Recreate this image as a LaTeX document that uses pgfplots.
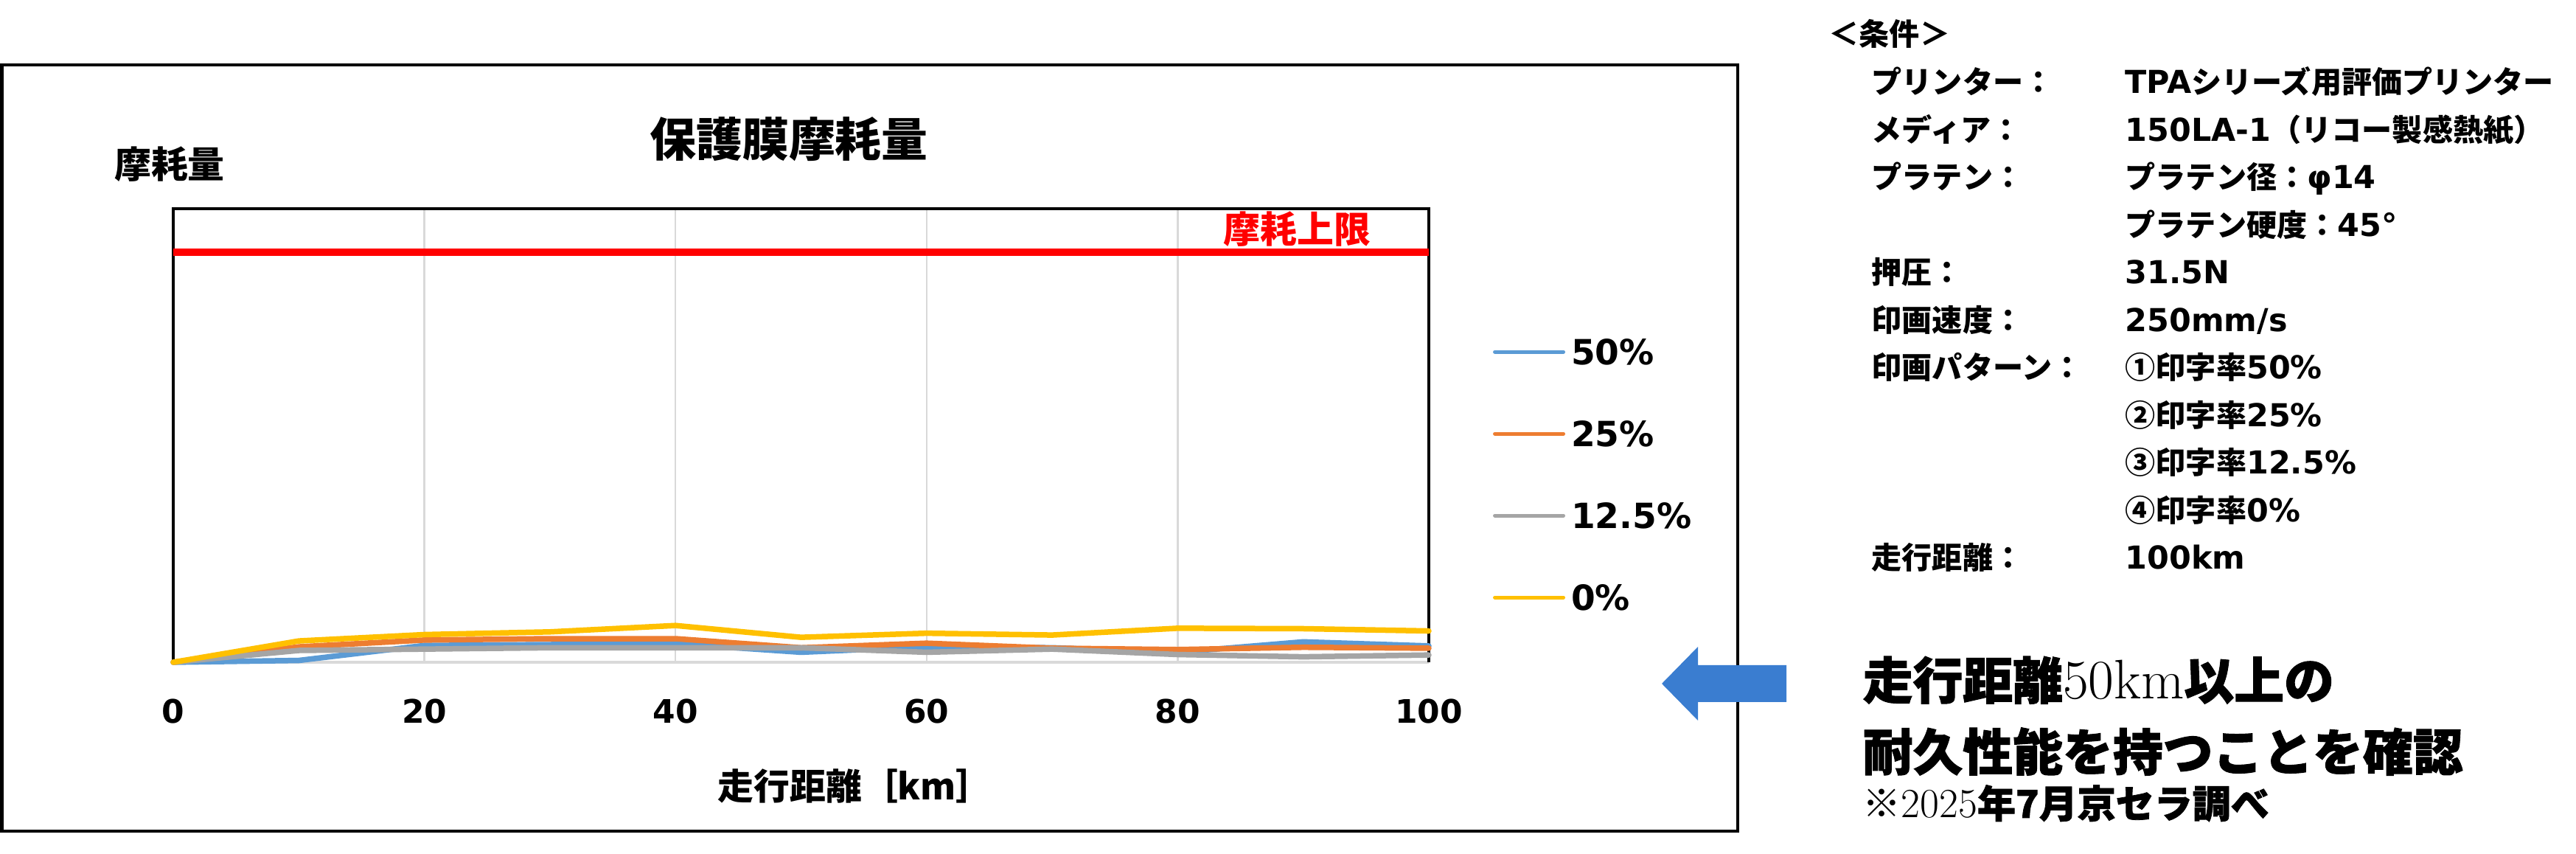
\documentclass[border=0pt]{standalone}
\usepackage{fontspec}
\usepackage{graphicx}
\usepackage{pgfplots}
\pgfplotsset{compat=1.18}
\newfontfamily\jp{Noto Sans CJK JP}
\newfontfamily\jph{Noto Sans CJK JP}[BoldFeatures={FakeBold=1.5}]
\newfontfamily\dv{DejaVu Sans}
\definecolor{c50}{HTML}{5B9BD5}
\definecolor{c25}{HTML}{ED7D31}
\definecolor{c12}{HTML}{A5A5A5}
\definecolor{c0}{HTML}{FFC000}
\definecolor{arrowblue}{HTML}{3A7DD0}
\definecolor{gridgray}{HTML}{D9D9D9}
\newcommand\pj{\jp\bfseries\fontsize{11.7}{14}\selectfont}
\newcommand\pd{\dv\bfseries\fontsize{12.2}{14}\selectfont}
\newcommand\bj{\jph\bfseries\fontsize{19.3}{22}\selectfont}
\begin{document}
\begin{tikzpicture}[x=1cm,y=1cm]
\useasboundingbox (0,0) rectangle (34.94,11.58);
\draw[line width=0.045cm] (0.025,0.31) rectangle (23.57,10.70);
\begin{axis}[
  at={(2.35cm,2.60cm)}, anchor=south west,
  scale only axis, width=17.03cm, height=6.15cm,
  xmin=0, xmax=100, ymin=0, ymax=100,
  axis line style={draw=none},
  xtick={0,20,40,60,80,100},
  xticklabels={0,20,40,60,80,100},
  /pgf/number format/assume math mode=true,
  ytick=\empty,
  major tick length=0pt,
  xmajorgrids, grid style={gridgray, line width=0.025cm},
  xticklabel style={font=\dv\bfseries\fontsize{12.5}{15}\selectfont, anchor=base, inner sep=0pt, yshift=-0.83cm},
  xlabel={\jp\bfseries\fontsize{13.9}{16}\selectfont 走行距離［km］},
  xlabel style={at={(rel axis cs:0.543,0)}, anchor=base, inner sep=0pt, yshift=-1.87cm},
  legend style={draw=none, fill=none, at={(rel axis cs:1.0511,0.747)}, anchor=north west,
    inner sep=0pt, outer sep=0pt, row sep=0pt, column sep=0.08cm,
    font=\dv\bfseries\fontsize{13.4}{16}\selectfont,
    nodes={inner sep=0pt, text height=0.555cm, text depth=0.555cm}},
  legend cell align=left,
  legend image code/.code={\draw[#1, line width=0.05cm, line cap=round] (0cm,0.17cm) -- (0.93cm,0.17cm);},
  clip=false,
]
\draw[gridgray, line width=0.04cm] (rel axis cs:0,0) -- (rel axis cs:1,0);
\draw[black, line width=0.04cm] (rel axis cs:0,0) -- (rel axis cs:0,1) -- (rel axis cs:1,1) -- (rel axis cs:1,0);
\addplot[red, line width=0.1cm, forget plot] coordinates {(0,90.4) (100,90.4)};
\node[anchor=base, text=red, font=\jp\bfseries\fontsize{14.2}{16}\selectfont, inner sep=0pt] at (axis cs:89.5,92.4) {摩耗上限};
\addplot[c50, line width=0.075cm, line join=round, line cap=round] coordinates {(0,0) (10,0.4) (20,3.7) (30,3.9) (40,4.1) (50,2.2) (60,3.4) (70,3.2) (80,2.2) (90,4.5) (100,3.6)};
\addlegendentry{50\%}
\addplot[c25, line width=0.075cm, line join=round, line cap=round] coordinates {(0,0) (10,3.4) (20,4.9) (30,5.2) (40,5.2) (50,3.2) (60,4.2) (70,3.1) (80,2.8) (90,3.3) (100,3.1)};
\addlegendentry{25\%}
\addplot[c12, line width=0.075cm, line join=round, line cap=round] coordinates {(0,0) (10,2.6) (20,2.9) (30,3.2) (40,3.2) (50,3.2) (60,2.2) (70,2.9) (80,1.7) (90,1.2) (100,1.6)};
\addlegendentry{12.5\%}
\addplot[c0, line width=0.075cm, line join=round, line cap=round] coordinates {(0,0) (10,4.7) (20,6.1) (30,6.7) (40,8.1) (50,5.5) (60,6.4) (70,6.0) (80,7.5) (90,7.4) (100,6.9)};
\addlegendentry{0\%}
\end{axis}
% titles
\node[anchor=base, inner sep=0pt] at (10.70,9.45) {\jp\bfseries\fontsize{17.9}{20}\selectfont 保護膜摩耗量};
\node[anchor=base, inner sep=0pt] at (2.30,9.16) {\jp\bfseries\fontsize{14.2}{17}\selectfont 摩耗量};
% arrow
\fill[arrowblue] (22.54,2.31) -- (23.03,2.81) -- (23.03,2.56) -- (24.23,2.56) -- (24.23,2.06) -- (23.03,2.06) -- (23.03,1.81) -- cycle;
% conditions
\node[anchor=base west, inner sep=0pt] at (24.80,10.96) {\pj ＜条件＞};
\begin{scope}[every node/.style={anchor=base west, inner sep=0pt}]
\node at (25.38,10.314) {\pj プリンター：};
\node at (28.82,10.314) {{\pd TPA}{\pj シリーズ用評価プリンター}};
\node at (25.38,9.669) {\pj メディア：};
\node at (28.82,9.669) {{\pd 150LA-1}{\pj （リコー製感熱紙）}};
\node at (25.38,9.024) {\pj プラテン：};
\node at (28.82,9.024) {{\pj プラテン径：}{\pd φ14}};
\node at (28.82,8.379) {{\pj プラテン硬度：}{\pd 45°}};
\node at (25.38,7.734) {\pj 押圧：};
\node at (28.82,7.734) {\pd 31.5N};
\node at (25.38,7.089) {\pj 印画速度：};
\node at (28.82,7.089) {\pd 250mm/s};
\node at (25.38,6.444) {\pj 印画パターン：};
\node at (28.82,6.444) {{\pj ①印字率}{\pd 50\%}};
\node at (28.82,5.799) {{\pj ②印字率}{\pd 25\%}};
\node at (28.82,5.154) {{\pj ③印字率}{\pd 12.5\%}};
\node at (28.82,4.509) {{\pj ④印字率}{\pd 0\%}};
\node at (25.38,3.864) {\pj 走行距離：};
\node at (28.82,3.864) {\pd 100km};
% conclusion
\node at (25.26,2.10) {{\bj 走行距離}{\fontsize{21.5}{24}\selectfont 50km}{\bj 以上の}};
\node at (25.26,1.13) {\bj 耐久性能を持つことを確認};
\node at (25.26,0.49) {{\jp\fontsize{14.8}{17}\selectfont ※}{\fontsize{16}{18}\selectfont 2025}{\jph\bfseries\fontsize{14.8}{17}\selectfont 年7月京セラ調べ}};
\end{scope}
\end{tikzpicture}
\end{document}
